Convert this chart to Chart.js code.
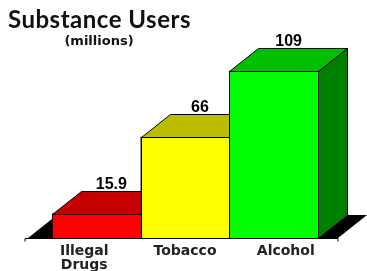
<!DOCTYPE html>
<html>
<head>
<meta charset="utf-8">
<script src="https://cdn.jsdelivr.net/npm/chart.js@4.4.0/dist/chart.umd.min.js"></script>
<style>
  html, body { margin: 0; padding: 0; background: #fff; }
  #wrap { width: 367px; height: 271px; }
</style>
</head>
<body>
<div id="wrap"><canvas id="chart"></canvas></div>
<script>
// chart data
const categories = [['Illegal', 'Drugs'], 'Tobacco', 'Alcohol'];
const users = [15.9, 66, 109];
const frontColors = ['#ff0000', '#ffff00', '#00ff00'];
const topColors = ['#c40000', '#bdbd00', '#00c000'];
const sideColors = ['#900000', '#8c8c00', '#008000'];

// 3d depth of the boxes
const DX = 29, DY = -23;

function poly(ctx, pts, fill) {
    ctx.beginPath();
    ctx.moveTo(pts[0][0], pts[0][1]);
    for (let i = 1; i < pts.length; i++) ctx.lineTo(pts[i][0], pts[i][1]);
    ctx.closePath();
    ctx.fillStyle = fill;
    ctx.fill();
    ctx.stroke();
}

const boxes = {
    id: 'boxes',
    beforeDatasetsDraw(chart) {
        const ctx = chart.ctx, area = chart.chartArea;
        const base = chart.scales.y.getPixelForValue(0);
        const l = area.left - 24, r = area.right + 20;
        ctx.save();
        ctx.fillStyle = '#000';
        ctx.beginPath();
        ctx.moveTo(l, base);
        ctx.lineTo(r, base);
        ctx.lineTo(r + DX, base + DY);
        ctx.lineTo(l + DX, base + DY);
        ctx.closePath();
        ctx.fill();
        // axis line with end ticks
        ctx.strokeStyle = '#000';
        ctx.lineWidth = 1;
        ctx.beginPath();
        ctx.moveTo(area.left - 27, base + 3.5);
        ctx.lineTo(area.left - 27, base + 0.5);
        ctx.lineTo(r, base + 0.5);
        ctx.lineTo(r, base + 3.5);
        ctx.stroke();
        ctx.restore();
    },
    afterDatasetsDraw(chart) {
        const ctx = chart.ctx;
        const meta = chart.getDatasetMeta(0);
        ctx.save();
        ctx.strokeStyle = '#000';
        ctx.lineWidth = 1;
        meta.data.forEach((bar, i) => {
            const p = bar.getProps(['x', 'y', 'base', 'width'], true);
            const x0 = Math.round(p.x - p.width / 2) + 0.5;
            const x1 = Math.round(p.x + p.width / 2) + 0.5;
            const t = Math.round(p.y) + 0.5, b = Math.round(p.base) + 0.5;
            poly(ctx, [[x1, t], [x1 + DX, t + DY], [x1 + DX, b + DY], [x1, b]], sideColors[i]);
            poly(ctx, [[x0, t], [x0 + DX, t + DY], [x1 + DX, t + DY], [x1, t]], topColors[i]);
            poly(ctx, [[x0, t], [x1, t], [x1, b], [x0, b]], frontColors[i]);
        });
        // values above the boxes
        ctx.fillStyle = '#000';
        ctx.font = 'bold 16px "Liberation Sans", Arial, sans-serif';
        ctx.textAlign = 'center';
        ctx.textBaseline = 'alphabetic';
        meta.data.forEach((bar, i) => {
            ctx.fillText(String(users[i]), bar.x + 15, bar.y + DY - 2);
        });
        ctx.restore();
    },
    afterDraw(chart) {
        const ctx = chart.ctx;
        ctx.save();
        ctx.fillStyle = '#111';
        ctx.textBaseline = 'alphabetic';
        ctx.textAlign = 'left';
        ctx.letterSpacing = '0.5px';
        ctx.font = 'bold 24px Lato, "DejaVu Sans", sans-serif';
        ctx.fillText('Substance Users', 8, 28);
        ctx.letterSpacing = '0px';
        ctx.textAlign = 'center';
        ctx.font = 'bold 13px "DejaVu Sans", sans-serif';
        ctx.fillText('(millions)', 99, 45);
        ctx.restore();
    }
};

new Chart(document.getElementById('chart'), {
    type: 'bar',
    data: {
        labels: categories,
        datasets: [{
            data: users,
            backgroundColor: frontColors,
            borderColor: '#000',
            borderWidth: 1,
            barPercentage: 1,
            categoryPercentage: 1
        }]
    },
    options: {
        responsive: true,
        maintainAspectRatio: false,
        animation: false,
        layout: { padding: { left: 52, right: 49, top: 54, bottom: -7 } },
        plugins: {
            legend: { display: false },
            tooltip: { enabled: false }
        },
        scales: {
            x: { display: false },
            // label axis: spread a little wider than the boxes, as in the original
            xl: {
                type: 'linear',
                position: 'bottom',
                offset: false,
                bounds: 'data',
                min: -0.32,
                max: 2.32,
                afterBuildTicks(axis) {
                    axis.ticks = categories.map((c, i) => ({ value: i }));
                },
                grid: { display: false, drawTicks: false, offset: false },
                border: { display: false },
                ticks: {
                    padding: 6,
                    color: '#222',
                    font: { family: '"DejaVu Sans", sans-serif', size: 14, weight: 'bold', lineHeight: '14px' },
                    maxRotation: 0,
                    callback: v => categories[v]
                }
            },
            y: { display: false, min: 0, max: 120 }
        }
    },
    plugins: [boxes]
});
</script>
</body>
</html>
